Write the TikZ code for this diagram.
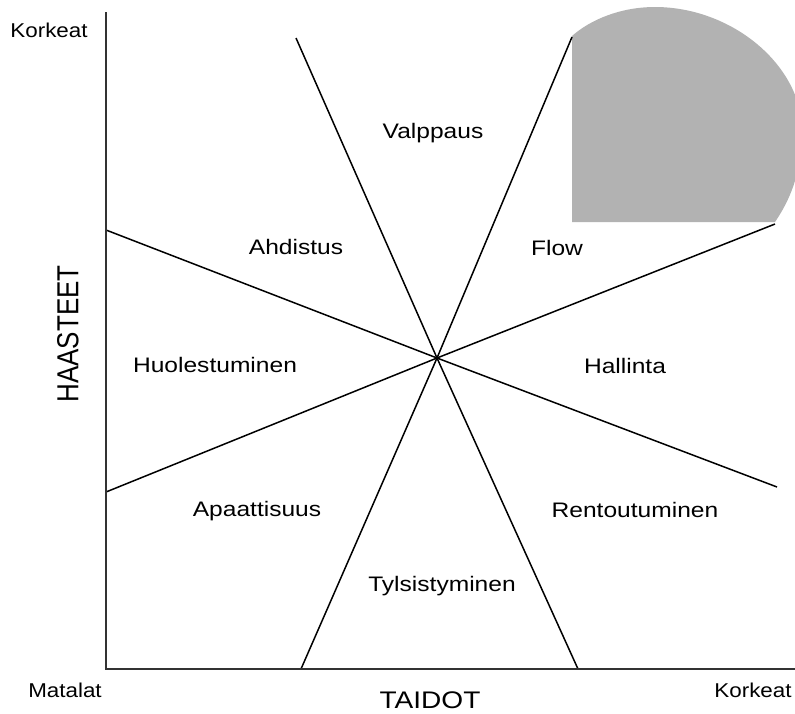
\documentclass[tikz,border=0pt]{standalone}
\usepackage{fontspec}
\setmainfont{Liberation Sans}
\begin{document}
\begin{tikzpicture}[x=1pt,y=-1pt,
  axis/.style={draw=black!80,line width=1.8pt},
  divider/.style={draw=black,line width=1.5pt},
  region/.style={font=\fontsize{21}{25}\selectfont,inner sep=0pt,anchor=base,xscale=1.17},
  endlabel/.style={font=\fontsize{20}{24}\selectfont,inner sep=0pt,anchor=base,xscale=1.12},
  axislabel/.style={font=\fontsize{24}{28}\selectfont,inner sep=0pt,xscale=1.17}]
\useasboundingbox (0,0) rectangle (795,713);
\begin{scope}
\clip (0,0) rectangle (795,713);
% shaded optimum zone in the upper right
\fill[gray!60] (572,36) -- (572,222) -- (775,222)
  .. controls (790,200) and (800,175) .. (802,140)
  .. controls (808,70) and (735,7) .. (655,7)
  .. controls (620,7) and (590,20) .. (572,36) -- cycle;
\end{scope}
% end points of the dividing lines
\coordinate (c) at (437,358);
\coordinate (t1) at (296,38);   \coordinate (b1) at (578,669);
\coordinate (t2) at (572,37);   \coordinate (b2) at (301,669);
\coordinate (l1) at (106,230);  \coordinate (r1) at (777,487);
\coordinate (l2) at (106,492);  \coordinate (r2) at (775,224);
\draw[divider] (t1) -- (c) -- (b1);
\draw[divider] (t2) -- (c) -- (b2);
\draw[divider] (l1) -- (c) -- (r1);
\draw[divider] (l2) -- (c) -- (r2);
% axes
\coordinate (ytop) at (106,12);
\coordinate (o) at (106,669);
\coordinate (xend) at (795,669);
\draw[axis] (ytop) -- (o) -- (xend);
% region names
\node[region] (valppaus) at (433,138) {Valppaus};
\node[region] (ahdistus) at (296,254) {Ahdistus};
\node[region] (flow) at (557,255) {Flow};
\node[region] (huol) at (215,372) {Huolestuminen};
\node[region] (hallinta) at (625,373) {Hallinta};
\node[region] (apaatt) at (257,516) {Apaattisuus};
\node[region] (rento) at (635,517) {Rentoutuminen};
\node[region] (tylsis) at (442,591) {Tylsistyminen};
% axis ends and titles
\node[endlabel] (korkeaty) at (49,37) {Korkeat};
\node[endlabel] (matalat) at (65,697) {Matalat};
\node[endlabel] (korkeatx) at (753,697) {Korkeat};
\node[axislabel,anchor=base] (taidot) at (430,708) {TAIDOT};
\node[axislabel,rotate=90,font=\fontsize{26}{30}\selectfont] (haasteet) at (68,334) {HAASTEET};
\end{tikzpicture}
\end{document}
